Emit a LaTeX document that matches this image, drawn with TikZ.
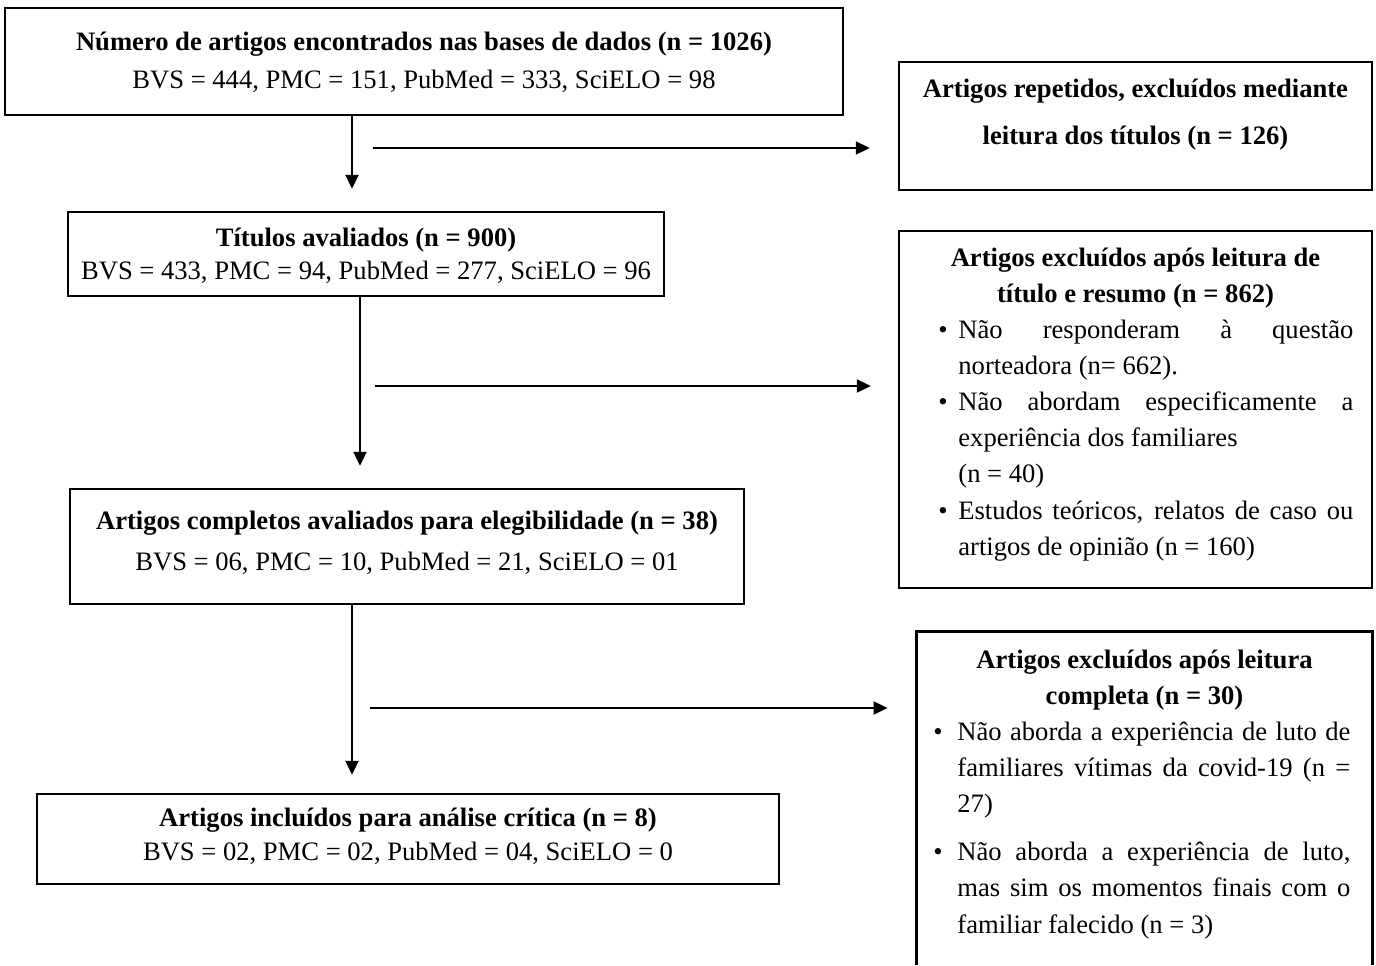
\documentclass[tikz,border=0pt]{standalone}
\usepackage{fontspec}
\setmainfont{Liberation Serif}
\usetikzlibrary{arrows.meta,fit}
\newcommand{\bitem}[2]{\par\noindent\hangindent=#1\hangafter=1\makebox[#1][l]{\textbullet}#2\par}
\begin{document}
\begin{tikzpicture}[x=0.5pt,y=-0.5pt,
  boxline/.style={line width=1.2pt},
  box/.style={draw, boxline, inner sep=0pt},
  arr/.style={line width=1pt, -{Triangle[length=7pt,width=6.5pt]}},
  txt/.style={inner sep=0pt, anchor=base, font=\fontsize{13.3}{18}\selectfont},
  btxt/.style={inner sep=0pt, anchor=base west, font=\fontsize{13.3}{18.1}\selectfont}]
\useasboundingbox[fill=white] (0,0) rectangle (1376,965);
% boxes
\node[box, fit={(5,8) (843,115)}] (b1) {};
\node[box, fit={(899,62) (1372,190)}] (b2) {};
\node[box, fit={(68,212) (664,296)}] (b3) {};
\node[box, fit={(899,231) (1372,588)}] (b4) {};
\node[box, fit={(70,489) (744,604)}] (b5) {};
\node[box, fit={(37,794) (779,884)}] (b6L) {};
\node[inner sep=0pt, fit={(917,632) (1372,965)}] (b6) {};
\draw[boxline] (b6.south west) -- (b6.north west) -- (b6.north east) -- (b6.south east);
% texts
\node[txt] (t1a) at (424,50) {\bfseries Número de artigos encontrados nas bases de dados (n = 1026)};
\node[txt] (t1b) at (424,88) {BVS = 444, PMC = 151, PubMed = 333, SciELO = 98};
\node[txt] (t2) at (1135.5,97) {\parbox[t]{230pt}{\centering\bfseries\baselineskip=23.5pt Artigos repetidos, excluídos mediante\\ leitura dos títulos (n = 126)}};
\node[txt] (t3a) at (366,246) {\bfseries Títulos avaliados (n = 900)};
\node[txt] (t3b) at (366,279) {BVS = 433, PMC = 94, PubMed = 277, SciELO = 96};
\node[txt] (t4a) at (1135.5,266) {\parbox[t]{230pt}{\centering\bfseries Artigos excluídos após leitura de\\ título e resumo (n = 862)}};
\node[btxt] (t4b) at (938,338) {\parbox[t]{207.5pt}{\hyphenpenalty=10000\exhyphenpenalty=10000\emergencystretch=20pt
  \bitem{10pt}{Não responderam à questão\linebreak norteadora (n= 662).}
  \bitem{10pt}{Não abordam especificamente a\linebreak experiência dos familiares\newline (n = 40)}
  \bitem{10pt}{Estudos teóricos, relatos de caso ou\linebreak artigos de opinião (n = 160)}}};
\node[txt] (t5a) at (407,529) {\bfseries Artigos completos avaliados para elegibilidade (n = 38)};
\node[txt] (t5b) at (407,570) {BVS = 06, PMC = 10, PubMed = 21, SciELO = 01};
\node[txt] (t6La) at (408,826) {\bfseries Artigos incluídos para análise crítica (n = 8)};
\node[txt] (t6Lb) at (408,860) {BVS = 02, PMC = 02, PubMed = 04, SciELO = 0};
\node[txt] (t6a) at (1144.5,668) {\parbox[t]{230pt}{\centering\bfseries Artigos excluídos após leitura\\ completa (n = 30)}};
\node[btxt] (t6b) at (933,740) {\parbox[t]{208.5pt}{\hyphenpenalty=10000\exhyphenpenalty=10000\emergencystretch=20pt
  \bitem{12pt}{Não aborda a experiência de luto de\linebreak familiares vítimas da covid-19 (n =\linebreak 27)}
  \vspace{6pt}
  \bitem{12pt}{Não aborda a experiência de luto,\linebreak mas sim os momentos finais com o\linebreak familiar falecido (n = 3)}}};
% connectors
\coordinate (a1) at (352,0);
\coordinate (a2) at (360,0);
\coordinate (a3) at (352,0);
\draw[arr, shorten >=11pt] (b1.south -| a1) -- (b3.north -| a1);
\draw[arr, shorten >=11pt] (b3.south -| a2) -- (b5.north -| a2);
\draw[arr, shorten >=9pt] (b5.south -| a3) -- (b6L.north -| a3);
\coordinate (h1) at (373,148);
\coordinate (h2) at (375,386);
\coordinate (h3) at (370,708);
\draw[arr, shorten >=14pt] (h1) -- (h1 -| b2.west);
\draw[arr, shorten >=13.5pt] (h2) -- (h2 -| b4.west);
\draw[arr, shorten >=14.5pt] (h3) -- (h3 -| b6.west);
\end{tikzpicture}
\end{document}
